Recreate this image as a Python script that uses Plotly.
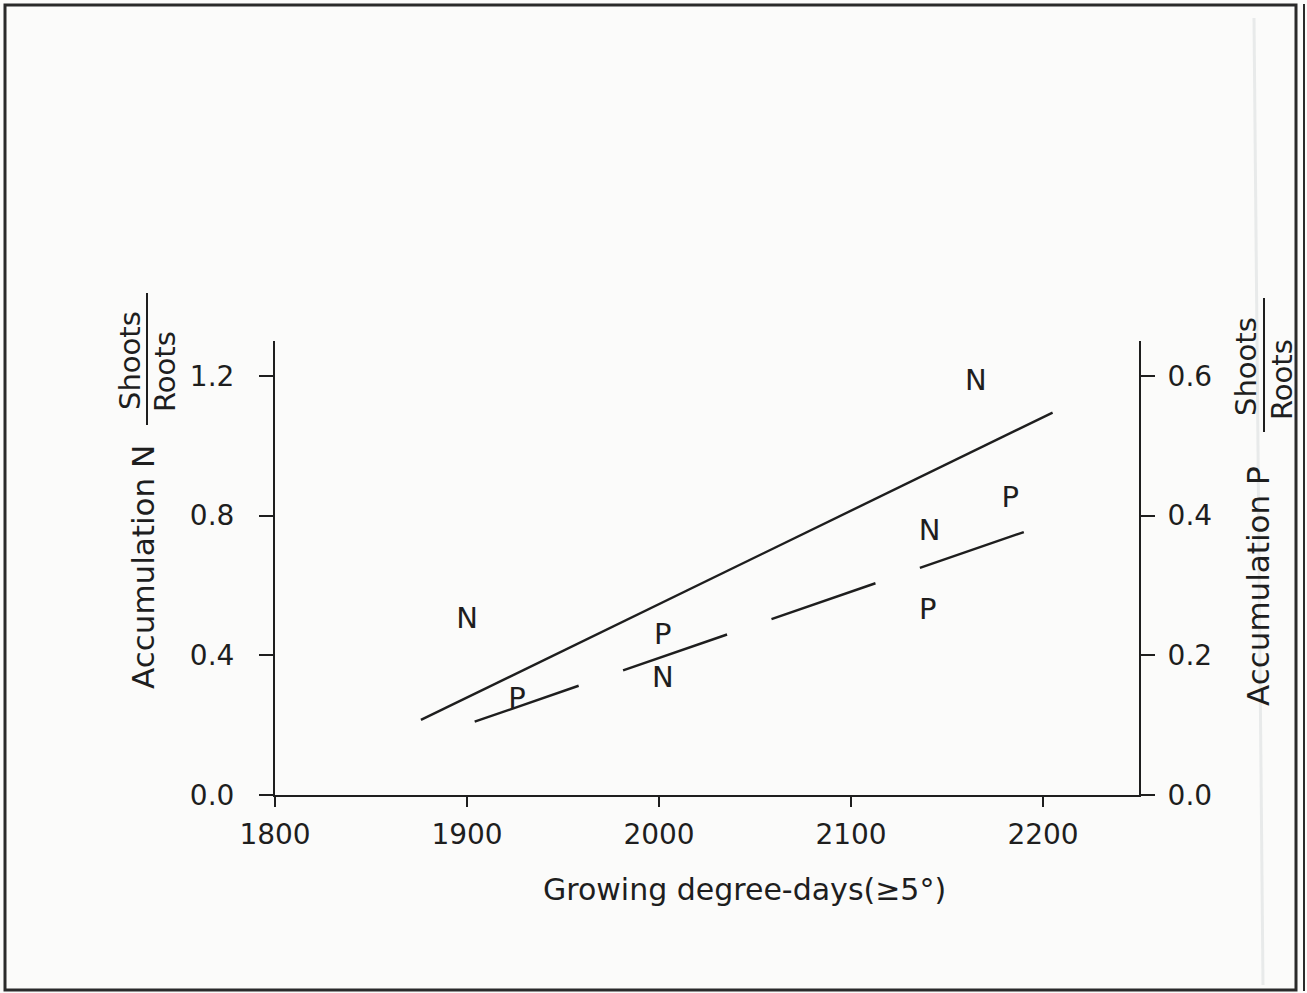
import plotly.graph_objects as go

# ---- data ----
x_ticks = [1800, 1900, 2000, 2100, 2200]
y_left_ticks = [0.0, 0.4, 0.8, 1.2]
y_left_labels = ["0.0", "0.4", "0.8", "1.2"]
y_right_ticks = [0.0, 0.2, 0.4, 0.6]
y_right_labels = ["0.0", "0.2", "0.4", "0.6"]

# N points (left axis) and fitted line
n_x = [1900, 2002, 2141, 2165]
n_y = [0.50, 0.33, 0.75, 1.18]
n_fit_x = [1876, 2205]
n_fit_y = [0.215, 1.095]

# P points (right axis) and fitted line
p_x = [1926, 2002, 2140, 2183]
p_y = [0.135, 0.226, 0.2625, 0.4225]
p_fit_x = [1904, 2190]
p_fit_y = [0.105, 0.3765]

# ---- geometry helpers ----
W, H = 1307, 993
L, R, T, B = 275, 1139, 341, 795
def px(xp):
    return (xp - L) / (R - L)
def py(yp):
    return (B - yp) / (B - T)

INK = "#1e1e1e"
FONT = "DejaVu Sans"

fig = go.Figure()
fig.add_trace(go.Scatter(x=n_fit_x, y=n_fit_y, mode="lines",
                         line=dict(color=INK, width=2.4), showlegend=False, hoverinfo="skip"))
fig.add_trace(go.Scatter(x=p_fit_x, y=p_fit_y, mode="lines", yaxis="y2",
                         line=dict(color=INK, width=2.4, dash="110px,47px"),
                         showlegend=False, hoverinfo="skip"))
fig.add_trace(go.Scatter(x=n_x, y=n_y, mode="text", text=["N"] * len(n_x),
                         textposition="middle center", cliponaxis=False,
                         textfont=dict(family=FONT, size=29, color=INK), showlegend=False))
fig.add_trace(go.Scatter(x=p_x, y=p_y, mode="text", text=["P"] * len(p_x), yaxis="y2",
                         textposition="middle center", cliponaxis=False,
                         textfont=dict(family=FONT, size=29, color=INK), showlegend=False))

axis_common = dict(showgrid=False, zeroline=False, showline=True, linecolor=INK,
                   linewidth=2, ticks="outside", tickcolor=INK, tickwidth=2,
                   tickfont=dict(family=FONT, size=28, color=INK))

fig.update_layout(
    width=W, height=H,
    margin=dict(l=L, r=W - R, t=T, b=H - B, pad=0),
    paper_bgcolor="#fbfbfa", plot_bgcolor="rgba(0,0,0,0)",
    xaxis=dict(range=[1800, 2250], tickvals=x_ticks, ticklen=10,
               ticklabelstandoff=3, **axis_common),
    yaxis=dict(range=[0, 1.3], tickvals=y_left_ticks, ticktext=y_left_labels,
               ticklen=14, ticklabelstandoff=19, **axis_common),
    yaxis2=dict(range=[0, 0.65], tickvals=y_right_ticks, ticktext=y_right_labels,
                overlaying="y", side="right", ticklen=14, ticklabelstandoff=7,
                **axis_common),
    showlegend=False,
)

ann_font = dict(family=FONT, size=31, color=INK)
small_font = dict(family=FONT, size=29, color=INK)
annotations = [
    dict(text="Growing degree-days(≥5°)", x=px(744), y=py(889), font=dict(family=FONT, size=30, color=INK)),
    dict(text="Accumulation N", x=px(143), y=py(567), textangle=-90, font=ann_font),
    dict(text="Shoots", x=px(130), y=py(361), textangle=-90, font=small_font),
    dict(text="Roots", x=px(165), y=py(372), textangle=-90, font=small_font),
    dict(text="Accumulation P", x=px(1258), y=py(586), textangle=-90, font=ann_font),
    dict(text="Shoots", x=px(1246), y=py(367), textangle=-90, font=small_font),
    dict(text="Roots", x=px(1282), y=py(380), textangle=-90, font=small_font),
]
for a in annotations:
    a.update(xref="paper", yref="paper", showarrow=False, xanchor="center", yanchor="middle")
fig.update_layout(annotations=annotations)

shapes = [
    # fraction bars
    dict(type="line", x0=px(147), x1=px(147), y0=py(293), y1=py(425), line=dict(color=INK, width=2)),
    dict(type="line", x0=px(1264), x1=px(1264), y0=py(298), y1=py(432), line=dict(color=INK, width=2)),
    # faint scan crease
    dict(type="line", x0=px(1254), x1=px(1263), y0=py(18), y1=py(985), line=dict(color="#e8eaea", width=3)),
    # page frame
    dict(type="rect", x0=px(5), x1=px(1296), y0=py(5), y1=py(990), line=dict(color="#2a2a2a", width=3)),
    dict(type="line", x0=px(1304), x1=px(1304), y0=py(4), y1=py(991), line=dict(color="#2a2a2a", width=2)),
]
for s in shapes:
    s.update(xref="paper", yref="paper", layer="above")
fig.update_layout(shapes=shapes)

fig.write_html("out.html")
